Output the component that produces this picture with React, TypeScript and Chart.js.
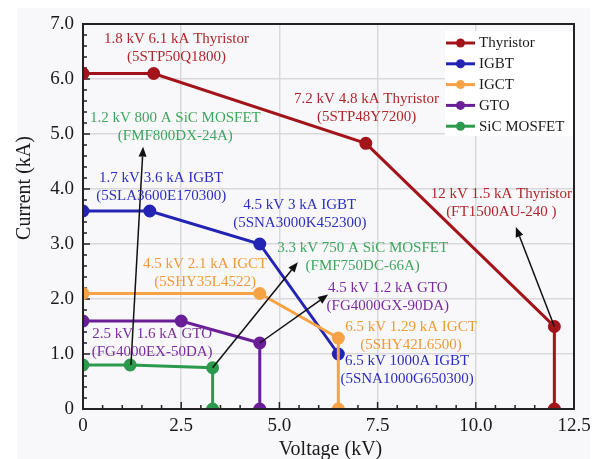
import { useEffect, useRef } from "react";
import { Chart, registerables } from "chart.js";

Chart.register(...registerables);

const FONT = '"Liberation Serif", "Times New Roman", serif';

// ---- data ----
const seriesNames = ["Thyristor", "IGBT", "IGCT", "GTO", "SiC MOSFET"];
const seriesColors = ["#A3141A", "#2424B4", "#F7A244", "#6A1F98", "#2C9A4C"];
const textColors = ["#B0262A", "#2E2EC2", "#F09A36", "#7A2C9E", "#3EA75E"];

const thyristorV = [0, 1.8, 7.2, 12, 12];
const thyristorI = [6.1, 6.1, 4.83, 1.5, 0];
const igbtV = [0, 1.7, 4.5, 6.5];
const igbtI = [3.6, 3.6, 3.0, 1.0];
const igctV = [0, 4.5, 6.5, 6.5];
const igctI = [2.1, 2.1, 1.29, 0];
const gtoV = [0, 2.5, 4.5, 4.5];
const gtoI = [1.6, 1.6, 1.2, 0];
const sicV = [0, 1.2, 3.3, 3.3];
const sicI = [0.8, 0.8, 0.75, 0];

const xTickValues = [0, 2.5, 5, 7.5, 10, 12.5];
const xTickLabels = ["0", "2.5", "5.0", "7.5", "10.0", "12.5"];
const yTickValues = [0, 1, 2, 3, 4, 5, 6, 7];
const yTickLabels = ["0", "1.0", "2.0", "3.0", "4.0", "5.0", "6.0", "7.0"];

// annotation labels: [series index, line1, line2, centre voltage, centre current]
const annotationSeries = [0, 0, 0, 4, 1, 1, 4, 2, 3, 3, 2, 1];
const annotationLine1 = [
  "1.8 kV 6.1 kA Thyristor",
  "7.2 kV 4.8 kA Thyristor",
  "12 kV 1.5 kA Thyristor",
  "1.2 kV 800 A SiC MOSFET",
  "1.7 kV 3.6 kA IGBT",
  "4.5 kV 3 kA IGBT",
  "3.3 kV 750 A SiC MOSFET",
  "4.5 kV 2.1 kA IGCT",
  "4.5 kV 1.2 kA GTO",
  "2.5 kV 1.6 kA GTO",
  "6.5 kV 1.29 kA IGCT",
  "6.5 kV 1000A IGBT",
];
const annotationLine2 = [
  "(5STP50Q1800)",
  "(5STP48Y7200)",
  "(FT1500AU-240 )",
  "(FMF800DX-24A)",
  "(5SLA3600E170300)",
  "(5SNA3000K452300)",
  "(FMF750DC-66A)",
  "(5SHY35L4522)",
  "(FG4000GX-90DA)",
  "(FG4000EX-50DA)",
  "(5SHY42L6500)",
  "(5SNA1000G650300)",
];
const annotationV = [2.38, 7.22, 10.65, 2.35, 1.99, 5.52, 7.12, 3.11, 7.76, 1.76, 8.35, 8.25];
const annotationI = [6.56, 5.47, 3.74, 5.12, 4.03, 3.54, 2.76, 2.48, 2.03, 1.19, 1.33, 0.7];

// arrows: from (V, I) to (V, I)
const arrowFromV = [1.22, 3.3, 4.5, 12];
const arrowFromI = [0.8, 0.75, 1.2, 1.5];
const arrowToV = [1.53, 5.47, 6.24, 11.02];
const arrowToI = [4.77, 2.67, 2.08, 3.31];

function pts(v: number[], i: number[]) {
  return v.map((x, k) => ({ x, y: i[k] }));
}

const decorPlugin = {
  id: "decor",
  beforeDraw(chart: any) {
    const { ctx, width, height } = chart;
    ctx.save();
    ctx.fillStyle = "#FFFFFF";
    ctx.fillRect(0, 0, width, height);
    ctx.fillStyle = "#F8F8FB";
    ctx.fillRect(17, 8, 573, height - 8);
    ctx.restore();
  },
  beforeDatasetsDraw(chart: any) {
    const { ctx, chartArea } = chart;
    const xs = chart.scales.x;
    const ys = chart.scales.y;
    ctx.save();
    // white legend box behind everything in plot
    ctx.fillStyle = "#FFFFFF";
    ctx.fillRect(445, 31, chartArea.right - 445, 105);
    // inner ticks
    ctx.strokeStyle = "#222";
    ctx.lineWidth = 1.5;
    ctx.beginPath();
    for (let k = 0; k <= 25; k++) {
      const v = k * 0.5;
      const px = xs.getPixelForValue(v);
      const len = k % 5 === 0 ? 7 : 4;
      ctx.moveTo(px, chartArea.bottom);
      ctx.lineTo(px, chartArea.bottom - len);
    }
    for (let k = 0; k <= 35; k++) {
      const v = k * 0.2;
      const py = ys.getPixelForValue(v);
      const len = k % 5 === 0 ? 7 : 4;
      ctx.moveTo(chartArea.left, py);
      ctx.lineTo(chartArea.left + len, py);
    }
    ctx.stroke();
    ctx.restore();
  },
  afterDatasetsDraw(chart: any) {
    const { ctx, chartArea } = chart;
    const xs = chart.scales.x;
    const ys = chart.scales.y;
    ctx.save();
    // arrows
    ctx.strokeStyle = "#111";
    ctx.fillStyle = "#111";
    ctx.lineWidth = 1.5;
    for (let k = 0; k < arrowFromV.length; k++) {
      const x0 = xs.getPixelForValue(arrowFromV[k]);
      const y0 = ys.getPixelForValue(arrowFromI[k]);
      const x1 = xs.getPixelForValue(arrowToV[k]);
      const y1 = ys.getPixelForValue(arrowToI[k]);
      const ang = Math.atan2(y1 - y0, x1 - x0);
      const hl = 10;
      const hw = 4;
      const bx = x1 - hl * Math.cos(ang);
      const by = y1 - hl * Math.sin(ang);
      ctx.beginPath();
      ctx.moveTo(x0, y0);
      ctx.lineTo(bx, by);
      ctx.stroke();
      ctx.beginPath();
      ctx.moveTo(x1, y1);
      ctx.lineTo(bx + hw * Math.sin(ang), by - hw * Math.cos(ang));
      ctx.lineTo(bx - hw * Math.sin(ang), by + hw * Math.cos(ang));
      ctx.closePath();
      ctx.fill();
    }
    // annotation labels
    ctx.font = `15px ${FONT}`;
    ctx.textAlign = "center";
    ctx.textBaseline = "middle";
    for (let k = 0; k < annotationLine1.length; k++) {
      const cx = xs.getPixelForValue(annotationV[k]);
      const cy = ys.getPixelForValue(annotationI[k]);
      ctx.fillStyle = textColors[annotationSeries[k]];
      ctx.fillText(annotationLine1[k], cx, cy - 9);
      ctx.fillText(annotationLine2[k], cx, cy + 9);
    }
    // border
    ctx.strokeStyle = "#222";
    ctx.lineWidth = 2;
    ctx.strokeRect(chartArea.left, chartArea.top, chartArea.right - chartArea.left, chartArea.bottom - chartArea.top);
    // legend
    ctx.font = `15px ${FONT}`;
    ctx.textAlign = "left";
    ctx.textBaseline = "middle";
    for (let k = 0; k < seriesNames.length; k++) {
      const y = 43 + k * 20.8;
      ctx.strokeStyle = seriesColors[k];
      ctx.fillStyle = seriesColors[k];
      ctx.lineWidth = 3;
      ctx.beginPath();
      ctx.moveTo(446, y);
      ctx.lineTo(475, y);
      ctx.stroke();
      ctx.beginPath();
      ctx.arc(460.5, y, 4.5, 0, Math.PI * 2);
      ctx.fill();
      ctx.fillStyle = "#1a1a1a";
      ctx.fillText(seriesNames[k], 479, y + 0.5);
    }
    // axis titles
    ctx.fillStyle = "#1a1a1a";
    ctx.font = `20px ${FONT}`;
    ctx.textAlign = "center";
    ctx.fillText("Voltage (kV)", 330.5, 450);
    ctx.translate(25, 188);
    ctx.rotate(-Math.PI / 2);
    ctx.fillText("Current (kA)", 0, 0);
    ctx.restore();
  },
};

export default function App() {
  const ref = useRef<HTMLCanvasElement | null>(null);
  useEffect(() => {
    document.body.style.margin = "0";
    if (!ref.current) return;
    const allV = [thyristorV, igbtV, igctV, gtoV, sicV];
    const allI = [thyristorI, igbtI, igctI, gtoI, sicI];
    const orders = [0, 2, 1, 3, 4];
    const chart = new Chart(ref.current, {
      type: "line",
      data: {
        datasets: seriesNames.map((name, k) => ({
          label: name,
          data: pts(allV[k], allI[k]),
          borderColor: seriesColors[k],
          backgroundColor: seriesColors[k],
          pointBackgroundColor: seriesColors[k],
          pointBorderColor: seriesColors[k],
          pointRadius: 5,
          borderWidth: 3,
          tension: 0,
          fill: false,
          order: orders[k],
        })),
      },
      plugins: [decorPlugin],
      options: {
        animation: false,
        responsive: false,
        devicePixelRatio: 1,
        layout: { padding: { left: 0, top: 24, right: 28, bottom: 0 } },
        plugins: { legend: { display: false }, tooltip: { enabled: false } },
        scales: {
          x: {
            type: "linear",
            min: 0,
            max: 12.5,
            afterBuildTicks: (s: any) => {
              s.ticks = xTickValues.map((v) => ({ value: v }));
            },
            afterFit: (s: any) => {
              s.height = 50;
            },
            ticks: {
              padding: 6,
              color: "#1a1a1a",
              font: { family: FONT, size: 19 },
              maxRotation: 0,
              callback: (v: any) => {
                const idx = xTickValues.indexOf(Number(v));
                return idx >= 0 ? xTickLabels[idx] : "";
              },
            },
            grid: { color: "#D9D9DC", lineWidth: 1.5, drawTicks: false },
            border: { display: false },
          },
          y: {
            type: "linear",
            min: 0,
            max: 7,
            afterBuildTicks: (s: any) => {
              s.ticks = yTickValues.map((v) => ({ value: v }));
            },
            afterFit: (s: any) => {
              s.width = 83;
            },
            ticks: {
              padding: 9,
              color: "#1a1a1a",
              font: { family: FONT, size: 19 },
              callback: (v: any) => {
                const idx = yTickValues.indexOf(Number(v));
                return idx >= 0 ? yTickLabels[idx] : "";
              },
            },
            grid: { color: "#D9D9DC", lineWidth: 1.5, drawTicks: false },
            border: { display: false },
          },
        },
      },
    });
    return () => chart.destroy();
  }, []);
  return (
    <div style={{ width: 602, height: 459 }}>
      <canvas ref={ref} width={602} height={459} style={{ display: "block" }} />
    </div>
  );
}
